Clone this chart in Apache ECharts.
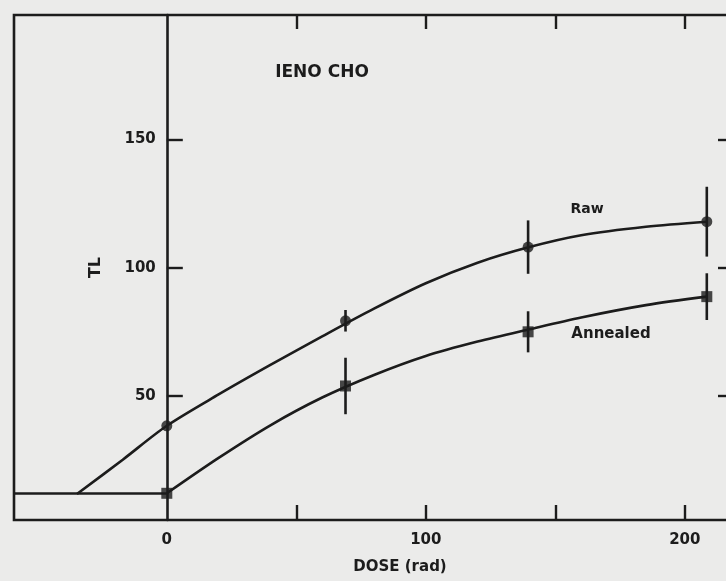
<!DOCTYPE html>
<html>
<head>
<meta charset="utf-8">
<script src="https://cdn.jsdelivr.net/npm/echarts@6/dist/echarts.min.js"></script>
<style>
html,body{margin:0;padding:0;background:#ebebea;}
#chart{width:726px;height:581px;}
</style>
</head>
<body>
<div id="chart"></div>
<script>
// ---- data ----
var xTicks = [50, 100, 150, 200];
var xTickLabels = [0, 100, 200];
var yTicks = [50, 100, 150];

var doses = [0, 69, 139.5, 208.5];
var rawTL = [38.4, 79.3, 108, 117.9];
var rawErr = [0, 4.2, 10.4, 13.6];
var annealedTL = [12.1, 53.9, 75.0, 88.7];
var annealedErr = [0, 11, 8, 9.1];

// fitted curves
var rawCurveX = [-34.7, -17, 0, 20, 40, 60, 80, 100, 120, 140, 160, 185, 208.5];
var rawCurveY = [11.8, 25.2, 38.4, 50.6, 62.1, 73.2, 84.0, 93.9, 101.9, 108.0, 112.6, 115.9, 117.9];
var annCurveX = [0, 20, 40, 60, 80, 100, 120, 140, 160, 185, 208.5];
var annCurveY = [12.1, 25.9, 38.6, 49.4, 58.2, 65.6, 71.2, 76.0, 80.6, 85.4, 88.7];
var baselineX = [-59, 0];
var baselineY = [12, 12];

var titleText = 'IENO CHO';
var rawLabel = 'Raw';
var annLabel = 'Annealed';

function pairs(xs, ys) { return xs.map(function (x, i) { return [x, ys[i]]; }); }
function errData(xs, ys, es) {
  var out = [];
  xs.forEach(function (x, i) { if (es[i] > 0) out.push([x, ys[i] - es[i], ys[i] + es[i]]); });
  return out;
}

var INK = '#1c1c1c';
var FONT = 'DejaVu Sans';
var XMIN = -59, XMAX = 219, GRID_LEFT = 14, GRID_W = 720;
var yAxisOffset = -(0 - XMIN) * GRID_W / (XMAX - XMIN);

var chart = echarts.init(document.getElementById('chart'), null, { renderer: 'canvas' });

function errSeries(data) {
  return {
    type: 'custom',
    data: data,
    z: 4,
    renderItem: function (params, api) {
      var x = api.value(0);
      var p1 = api.coord([x, api.value(1)]);
      var p2 = api.coord([x, api.value(2)]);
      return {
        type: 'line',
        shape: { x1: p1[0], y1: p1[1], x2: p2[0], y2: p2[1] },
        style: { stroke: INK, lineWidth: 2.6 }
      };
    }
  };
}

chart.setOption({
  backgroundColor: '#ebebea',
  animation: false,
  grid: {
    left: GRID_LEFT, top: 15, width: GRID_W, height: 505,
    containLabel: false, outerBoundsMode: 'none',
    show: true, borderColor: INK, borderWidth: 2.6, backgroundColor: 'transparent'
  },
  xAxis: [{
    type: 'value', min: XMIN, max: XMAX, position: 'bottom',
    axisLine: { show: false, onZero: false },
    axisTick: { show: true, inside: true, length: 15, customValues: xTicks, lineStyle: { color: INK, width: 2.4 } },
    axisLabel: { customValues: xTickLabels, margin: 13, color: INK, fontFamily: FONT, fontWeight: 'bold', fontSize: 15 },
    splitLine: { show: false },
    name: 'DOSE (rad)', nameLocation: 'middle', nameGap: 40,
    nameTextStyle: { color: INK, fontFamily: FONT, fontWeight: 'bold', fontSize: 15, padding: [0, 0, 0, 52] }
  }, {
    type: 'value', min: XMIN, max: XMAX, position: 'top',
    axisLine: { show: false, onZero: false },
    axisTick: { show: true, inside: true, length: 14, customValues: xTicks, lineStyle: { color: INK, width: 2.4 } },
    axisLabel: { show: false },
    splitLine: { show: false }
  }],
  yAxis: [{
    type: 'value', min: 1.7, max: 198.4, position: 'left', offset: yAxisOffset,
    axisLine: { show: true, onZero: false, lineStyle: { color: INK, width: 2.6 } },
    axisTick: { show: true, inside: true, length: 16, customValues: yTicks, lineStyle: { color: INK, width: 2.4 } },
    axisLabel: { customValues: yTicks, margin: 11, color: INK, fontFamily: FONT, fontWeight: 'bold', fontSize: 15 },
    splitLine: { show: false },
    name: 'TL', nameLocation: 'middle', nameGap: 63,
    nameTextStyle: { color: INK, fontFamily: FONT, fontWeight: 'bold', fontSize: 16 }
  }, {
    type: 'value', min: 1.7, max: 198.4, position: 'right',
    axisLine: { show: false, onZero: false },
    axisTick: { show: true, inside: true, length: 16, customValues: yTicks, lineStyle: { color: INK, width: 2.4 } },
    axisLabel: { show: false },
    splitLine: { show: false }
  }],
  graphic: [
    { type: 'text', x: 322, y: 73, style: { text: titleText, fill: INK, font: 'bold 17px "DejaVu Sans"', textAlign: 'center', textVerticalAlign: 'middle' } },
    { type: 'text', x: 587, y: 209, style: { text: rawLabel, fill: INK, font: 'bold 14px "DejaVu Sans"', textAlign: 'center', textVerticalAlign: 'middle' } },
    { type: 'text', x: 611, y: 334, style: { text: annLabel, fill: INK, font: 'bold 15px "DejaVu Sans"', textAlign: 'center', textVerticalAlign: 'middle' } }
  ],
  series: [
    { type: 'line', data: pairs(baselineX, baselineY), showSymbol: false, lineStyle: { color: INK, width: 2.6 }, z: 3 },
    { type: 'line', data: pairs(rawCurveX, rawCurveY), smooth: 0.3, showSymbol: false, lineStyle: { color: INK, width: 2.6 }, z: 3 },
    { type: 'line', data: pairs(annCurveX, annCurveY), smooth: 0.3, showSymbol: false, lineStyle: { color: INK, width: 2.6 }, z: 3 },
    errSeries(errData(doses, rawTL, rawErr)),
    errSeries(errData(doses, annealedTL, annealedErr)),
    { type: 'scatter', data: pairs(doses, rawTL), symbol: 'circle', symbolSize: 11, itemStyle: { color: INK }, z: 5 },
    { type: 'scatter', data: pairs(doses, annealedTL), symbol: 'rect', symbolSize: 11, itemStyle: { color: INK }, z: 5 }
  ]
});
</script>
</body>
</html>
